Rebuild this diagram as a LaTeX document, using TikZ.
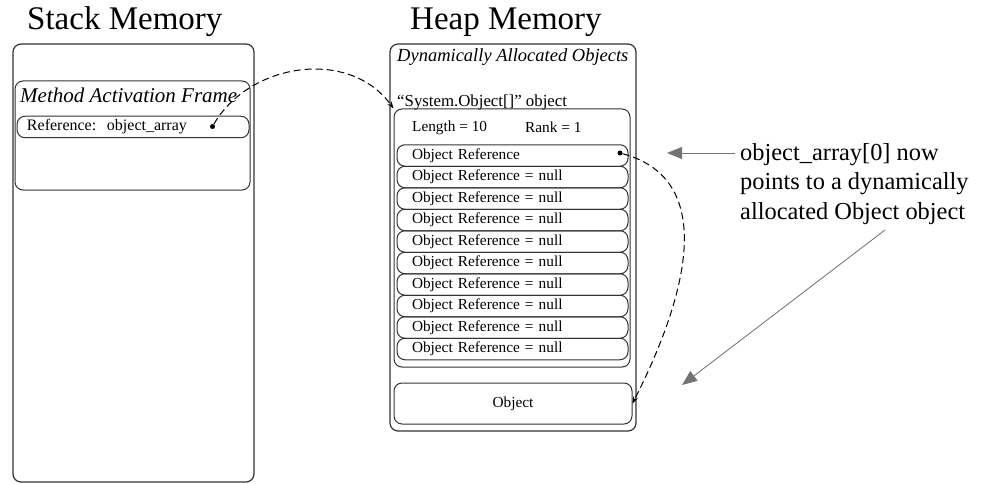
\documentclass[tikz,border=0pt]{standalone}
\usepackage{fontspec}
\setmainfont{Liberation Serif}
\usetikzlibrary{arrows.meta}
\tikzset{
  frame/.style={draw=black!80, line width=1.2pt, rounded corners=8pt},
  box/.style={draw=black!80, line width=1pt, rounded corners=8pt},
  row/.style={draw=black!80, line width=1pt, rounded corners=8pt, minimum width=231pt,
    minimum height=21.5pt, text width=201pt, inner xsep=15pt, inner ysep=0pt, align=left,
    font=\fontsize{15.3}{17}\selectfont},
  heading/.style={anchor=west, inner sep=0pt, font=\fontsize{33}{36}\selectfont},
  label/.style={anchor=west, inner sep=0pt, font=\fontsize{15.3}{17}\selectfont},
  caption/.style={anchor=west, inner sep=0pt, font=\fontsize{20}{22}\selectfont\itshape},
  dot/.style={circle, fill=black, inner sep=0pt, minimum size=5pt},
  link/.style={dashed, dash pattern=on 7pt off 4pt, line width=1pt, -{Stealth[length=7pt,width=5pt]}},
  pointer/.style={draw=black!55, line width=0.8pt, -{Triangle[length=15pt,width=12pt]}, fill=black!55}
}
\begin{document}
\begin{tikzpicture}[x=1pt,y=-1pt]
  \useasboundingbox (0,0) rectangle (982,484);
  % titles
  \node[heading] (stacktitle) at (27,22) {Stack Memory};
  \node[heading] (heaptitle) at (410,22) {Heap Memory};
  % stack side
  \draw[frame] (13,44) rectangle (254,482);
  \node[box, minimum width=235pt, minimum height=109pt] (frm) at (132.5,135.5) {};
  \node[caption, font=\fontsize{21}{24}\selectfont\itshape] (frmcap) at (20,95) {Method Activation Frame};
  \node[row, minimum width=232pt, text width=212pt, inner xsep=10pt, font=\fontsize{16}{18}\selectfont] (ref) at (133,127) {Reference:\ \ object\_array};
  \node[dot] (d1) at (212.5,126.5) {};
  % heap side
  \draw[frame] (390,44) rectangle (636,431);
  \node[caption, font=\fontsize{18.5}{21}\selectfont\itshape] (heapcap) at (397,57) {Dynamically Allocated Objects};
  \node[label, font=\fontsize{16.8}{19}\selectfont] (arrcap) at (397,102) {“System.Object[]” object};
  \node[box, minimum width=236pt, minimum height=258pt] (arr) at (512,238) {};
  \node[label] (len) at (412,128) {Length = 10};
  \node[label] (rank) at (525,127) {Rank = 1};
  \foreach \i in {1,...,10} {
    \ifnum\i=1
      \node[row] (r\i) at (512.5,155.5) {Object Reference};
    \else
      \node[row] (r\i) at (512.5,{155.5+(\i-1)*21.5}) {Object Reference = null};
    \fi
  }
  \node[dot] (d2) at (620,153) {};
  \node[box, minimum width=238pt, minimum height=41pt, font=\fontsize{15.3}{17}\selectfont] (obj) at (513,403.5) {Object};
  % references
  \draw[link] (d1) .. controls (250,62) and (350,48) .. (arr.north west);
  \draw[link] (d2) .. controls (720,180) and (685,300) .. (obj.east);
  % note
  \node[anchor=north west, inner sep=0pt, align=left, font=\fontsize{24.4}{29.5}\selectfont] (note) at (740,143)
    {object\_array[0] now\\points to a dynamically\\allocated Object object};
  \coordinate (n1) at (735,153);
  \coordinate (t1) at (667,153);
  \coordinate (n2) at (885,230);
  \coordinate (t2) at (682,385);
  \draw[pointer] (n1) -- (t1);
  \draw[pointer] (n2) -- (t2);
\end{tikzpicture}
\end{document}
